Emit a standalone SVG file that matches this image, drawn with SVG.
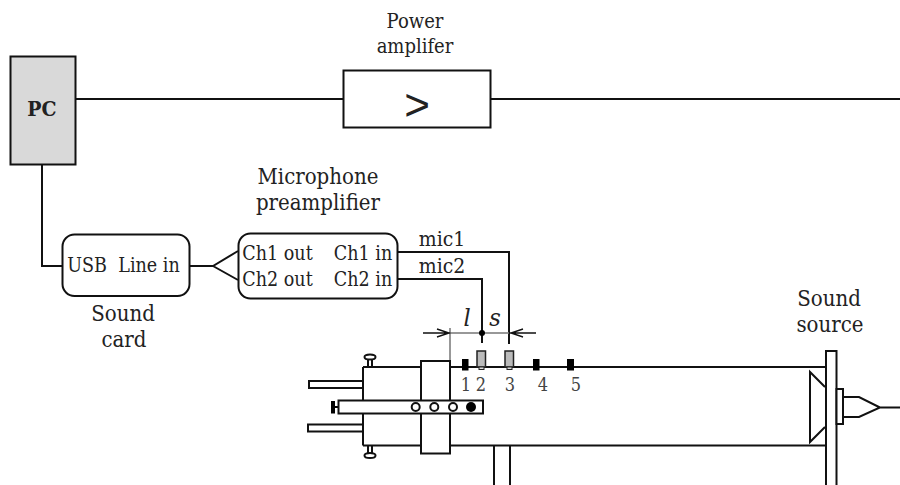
<svg xmlns="http://www.w3.org/2000/svg" width="900" height="485" viewBox="0 0 900 485">
<style>
text{font-family:"DejaVu Serif Condensed","DejaVu Serif","Liberation Serif",serif;font-stretch:condensed;font-size:22px;fill:#222;text-anchor:middle}
.p{font-size:20px}
.s{font-size:19.500px}
.mc{font-size:21px}
.n{font-size:18px;fill:#444}
.i{font-style:italic;font-size:25px}
.l{fill:none;stroke:#111;stroke-width:2}
.b{fill:#fff;stroke:#111;stroke-width:2}
.g{fill:none;stroke:#777;stroke-width:1.5}
.k{fill:#000}
.m{fill:#bbb;stroke:#222;stroke-width:1.5}
</style>
<g id="connectors">
<path class="l" d="M75 99H343M490 99H900M42 165V266H62M190 266H213L238 251M213 266L238 280M398 252H509V344M398 279H482V343"/>
<path class="g" d="M450 328V361M450 333H509"/>
<path class="l" d="M423 333H450M509 333H536M437 329L449 333L437 337M523 329L511 333L523 337" style="stroke-width:1.4"/>
<circle class="k" cx="482" cy="333" r="3"/>
<path class="l" d="M843 397H859L880 407.5L859 417H843M880 407.5H900"/>
</g>
<g id="pc"><rect x="10.500" y="56.500" width="65" height="108" fill="#d9d9d9" stroke="#111" stroke-width="2"/><text x="42" y="116" style="font-weight:bold;font-size:21px">PC</text></g>
<g id="power-amplifier"><rect class="b" x="343.500" y="70.500" width="147" height="57"/><text x="417" y="120" style="font-family:'Liberation Sans',sans-serif;font-size:44px">&gt;</text><text class="p" x="415" y="28">Power</text><text class="p" x="415" y="53">amplifer</text></g>
<g id="sound-card"><rect class="b" x="62.500" y="234.500" width="127" height="61.500" rx="12"/><text class="s" x="87" y="272">USB</text><text class="s" x="149" y="272">Line in</text><text x="123" y="321">Sound</text><text x="124" y="347">card</text></g>
<g id="preamplifier"><rect class="b" x="238.500" y="233.500" width="159" height="65" rx="12"/><text class="s" x="277.500" y="260">Ch1 out</text><text class="s" x="363" y="260">Ch1 in</text><text class="s" x="277.500" y="286">Ch2 out</text><text class="s" x="363" y="286">Ch2 in</text><text x="318" y="184">Microphone</text><text x="318" y="210">preamplifier</text></g>
<g id="labels"><text class="mc" x="442" y="246">mic1</text><text class="mc" x="442" y="273">mic2</text><text class="i" x="467" y="326">l</text><text class="i" x="495" y="326">s</text></g>
<g id="tube">
<path class="l" d="M363 367H826M363 445.500H826M363 367V445.500M494 446V485M510 446V485"/>
<rect class="b" x="309" y="381" width="54" height="7"/><rect class="b" x="308" y="424.500" width="55" height="7"/>
<path class="l" d="M368 359V367M372 359V367M368 446V453M372 446V453"/>
<ellipse class="b" cx="370" cy="357" rx="5.500" ry="2.500"/><ellipse class="b" cx="370" cy="455.500" rx="5.500" ry="2.500"/>
<rect class="b" x="421" y="361" width="29" height="92.500"/>
<rect class="k" x="331" y="401" width="4" height="12.500"/><rect class="k" x="335" y="406" width="4" height="2"/>
<rect class="b" x="338.500" y="400.500" width="144.500" height="13"/>
<circle class="b" cx="415.700" cy="407" r="4"/><circle class="b" cx="434.300" cy="407" r="4"/><circle class="b" cx="453" cy="407" r="4"/><circle class="k" cx="471" cy="407" r="5"/>
<rect class="k" x="462" y="359" width="6.500" height="11.500"/><rect class="k" x="533" y="359" width="6.500" height="11.500"/><rect class="k" x="567" y="359" width="7" height="11.500"/>
<rect class="m" x="477" y="351" width="8.500" height="16"/><rect class="m" x="505" y="351" width="8.500" height="16"/>
<rect x="479" y="367" width="5" height="2.500" fill="#ddd" stroke="#222"/><rect x="507" y="367" width="5" height="2.500" fill="#ddd" stroke="#222"/>
<text class="n" x="466" y="391">1</text><text class="n" x="481" y="391">2</text><text class="n" x="510" y="391">3</text><text class="n" x="543" y="391">4</text><text class="n" x="576" y="391">5</text>
</g>
<g id="sound-source">
<rect class="b" x="826" y="351" width="10.500" height="140"/>
<path class="l" d="M825 387L810 372V442L825 427"/>
<rect class="b" x="836.500" y="389" width="6.500" height="35"/>
<text x="829" y="306">Sound</text><text x="830" y="332">source</text>
</g>
</svg>
